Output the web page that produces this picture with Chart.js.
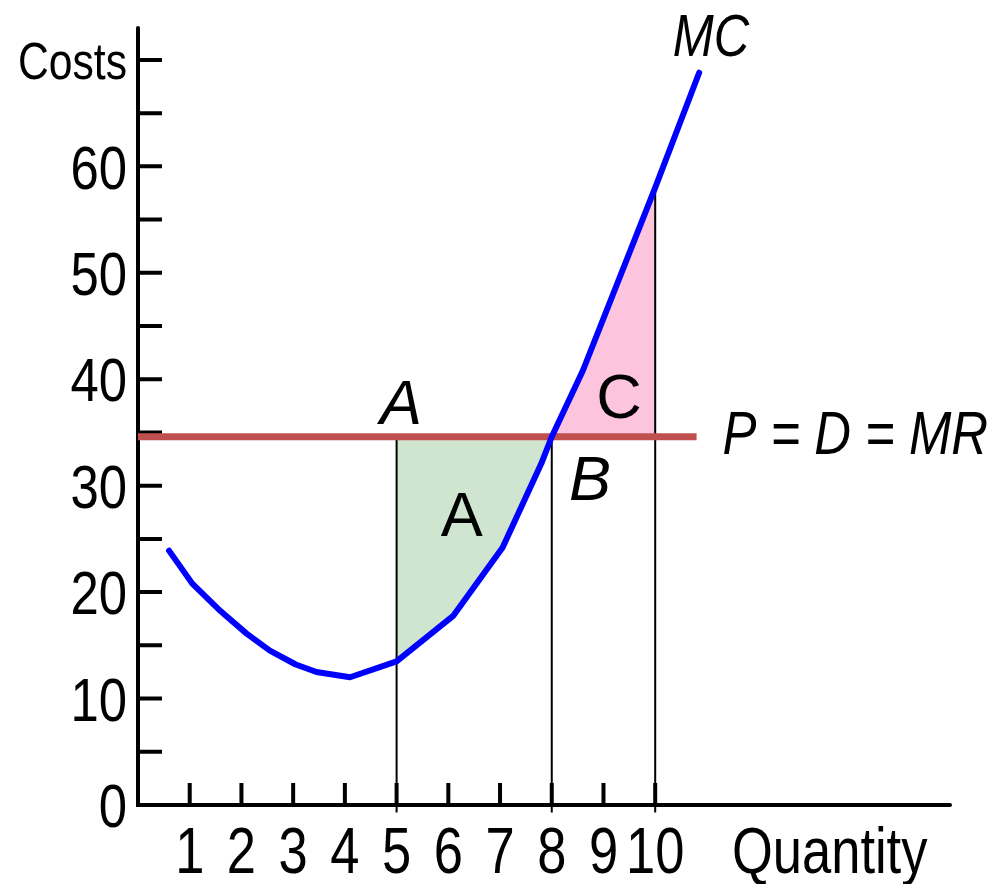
<!DOCTYPE html>
<html>
<head>
<meta charset="utf-8">
<title>Marginal cost and price</title>
<script src="https://cdn.jsdelivr.net/npm/chart.js@4.4.1/dist/chart.umd.min.js"></script>
<style>
  html, body { margin: 0; padding: 0; background: #fff; }
  canvas { display: block; }
</style>
</head>
<body>
<canvas id="chart" width="999" height="884"></canvas>
<script>
// MC curve (quantity -> cost)
const mcQuantity = [0.6, 1.05, 1.6, 2.1, 2.55, 3.05, 3.45, 4.1, 5.0, 6.1, 7.05, 7.8, 8.0, 8.6, 10.0, 10.85];
const mcCost     = [23.9, 20.8, 18.2, 16.1, 14.5, 13.2, 12.5, 12.0, 13.5, 17.8, 24.2, 32.1, 34.6, 40.8, 58.0, 68.8];

// P = D = MR
const price = 34.6;
const priceRange = [0, 10.8];

// thin drop lines
const dropQuantity = [5, 8, 10];
const dropTop      = [34.6, 34.6, 58.0];

// axis ticks and labels
const xTicks = [1, 2, 3, 4, 5, 6, 7, 8, 9, 10];
const yTicks = [5, 10, 15, 20, 25, 30, 35, 40, 45, 50, 55, 60, 65, 70];
const yLabels = [0, 10, 20, 30, 40, 50, 60];

const NARROW = 0.82; // axis text in the picture is a condensed sans
const FONT = '"Liberation Sans", Arial, sans-serif';

function mcBetween(a, b) {
    const pts = [];
    mcQuantity.forEach((q, i) => {
        if (q >= a && q <= b) pts.push({ x: q, y: mcCost[i] });
    });
    return pts;
}

// draw text centred (vertically) on y, squeezed by sx
function label(ctx, text, x, y, size, italic, align, sx) {
    ctx.save();
    ctx.font = (italic ? 'italic ' : '') + size + 'px ' + FONT;
    ctx.fillStyle = '#000';
    ctx.textBaseline = 'alphabetic';
    ctx.textAlign = align || 'center';
    ctx.translate(x, y + size * 0.358);
    ctx.scale(sx === undefined ? NARROW : sx, 1);
    ctx.fillText(text, 0, 0);
    ctx.restore();
}

const axesPlugin = {
    id: 'axes',
    beforeDatasetsDraw(chart) {
        const ctx = chart.ctx;
        const xs = chart.scales.x, ys = chart.scales.y;
        const x0 = xs.getPixelForValue(0), y0 = ys.getPixelForValue(0);
        ctx.save();
        ctx.strokeStyle = '#000';
        ctx.lineWidth = 4;
        ctx.lineCap = 'round';
        ctx.beginPath();
        ctx.moveTo(x0, chart.chartArea.top);
        ctx.lineTo(x0, y0);
        ctx.lineTo(chart.chartArea.right, y0);
        ctx.stroke();
        ctx.lineCap = 'butt';
        ctx.beginPath();
        yTicks.forEach(v => {
            const y = ys.getPixelForValue(v);
            ctx.moveTo(x0, y);
            ctx.lineTo(x0 + 24, y);
        });
        xTicks.forEach(v => {
            const x = xs.getPixelForValue(v);
            ctx.moveTo(x, y0);
            ctx.lineTo(x, y0 - 22);
        });
        ctx.stroke();
        ctx.restore();
    },
    afterDatasetsDraw(chart) {
        const ctx = chart.ctx;
        const xs = chart.scales.x, ys = chart.scales.y;
        const x0 = xs.getPixelForValue(0), y0 = ys.getPixelForValue(0);
        const px = v => xs.getPixelForValue(v);
        const py = v => ys.getPixelForValue(v);

        yLabels.forEach(v => label(ctx, String(v), x0 - 11, py(v), 62, false, 'right'));
        label(ctx, 'Costs', x0 - 11, py(70), 52, false, 'right');
        xTicks.forEach(v => label(ctx, String(v), px(v), y0 + 45, 64, false));
        label(ctx, 'Quantity', 732, y0 + 45, 64, false, 'left');

        label(ctx, 'MC', px(11.08), py(72.4), 60, true);
        label(ctx, 'P = D = MR', px(11.3), py(35.1), 62, true, 'left');

        // area / point letters are not squeezed
        label(ctx, 'A', px(5.085), py(37.9), 63, true, 'center', 1);
        label(ctx, 'A', px(6.26), py(27.4), 63, false, 'center', 1);
        label(ctx, 'C', px(9.30), py(38.5), 63, false, 'center', 1);
        label(ctx, 'B', px(8.74), py(30.8), 63, true, 'center', 1);
    }
};

const datasets = [
    {
        label: 'MC',
        data: mcQuantity.map((q, i) => ({ x: q, y: mcCost[i] })),
        borderColor: '#0000ff',
        borderWidth: 6,
        borderJoinStyle: 'round',
        borderCapStyle: 'round',
        fill: false,
        order: 0
    },
    {
        label: 'P = D = MR',
        data: priceRange.map(q => ({ x: q, y: price })),
        borderColor: '#c0504d',
        borderWidth: 7,
        fill: false,
        order: 1
    }
];

dropQuantity.forEach((q, i) => {
    datasets.push({
        label: 'drop ' + q,
        data: [{ x: q, y: -0.7 }, { x: q, y: dropTop[i] }],
        borderColor: '#000',
        borderWidth: 2,
        fill: false,
        order: 2
    });
});

datasets.push({
    label: 'A area',
    data: mcBetween(5, 8),
    borderWidth: 0,
    borderColor: 'rgba(0,0,0,0)',
    backgroundColor: '#cfe5cf',
    fill: { value: price },
    order: 3
});
datasets.push({
    label: 'C area',
    data: mcBetween(8, 10),
    borderWidth: 0,
    borderColor: 'rgba(0,0,0,0)',
    backgroundColor: '#fcc4dd',
    fill: { value: price },
    order: 3
});

datasets.forEach(d => {
    d.pointRadius = 0;
    d.tension = 0;
    d.clip = false;
});

new Chart(document.getElementById('chart'), {
    type: 'line',
    data: { datasets },
    options: {
        responsive: false,
        animation: false,
        layout: { padding: { left: 138, right: 49, top: 28, bottom: 79 } },
        scales: {
            x: { type: 'linear', min: 0, max: 15.7, display: false },
            y: { type: 'linear', min: 0, max: 73, display: false }
        },
        plugins: {
            legend: { display: false },
            tooltip: { enabled: false }
        }
    },
    plugins: [axesPlugin]
});
</script>
</body>
</html>
